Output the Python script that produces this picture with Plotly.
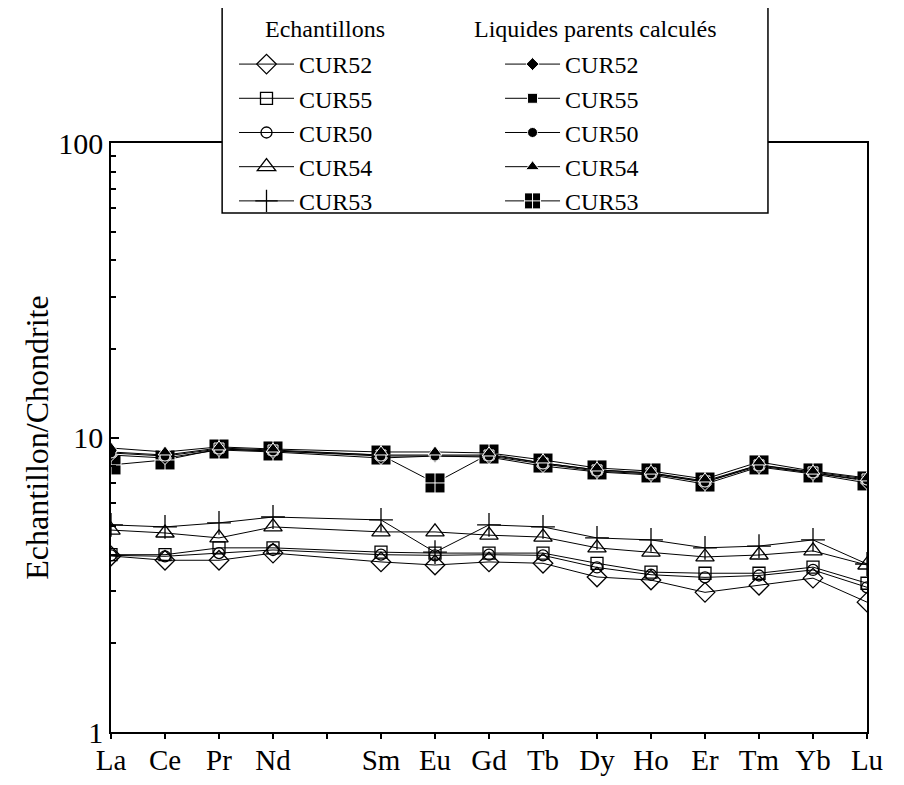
import plotly.graph_objects as go

# REE axis (Pm kept as an empty slot)
ree_axis = ["La", "Ce", "Pr", "Nd", "Pm", "Sm", "Eu", "Gd", "Tb", "Dy", "Ho", "Er", "Tm", "Yb", "Lu"]
elements = ["La", "Ce", "Pr", "Nd", "Sm", "Eu", "Gd", "Tb", "Dy", "Ho", "Er", "Tm", "Yb", "Lu"]

# Echantillons (chondrite-normalised)
cur52 = [3.96, 3.83, 3.83, 4.05, 3.78, 3.69, 3.78, 3.74, 3.36, 3.28, 2.98, 3.15, 3.33, 2.76]
cur55 = [4.00, 4.00, 4.22, 4.22, 4.08, 4.05, 4.05, 4.05, 3.74, 3.49, 3.46, 3.46, 3.63, 3.20]
cur50 = [3.98, 3.95, 4.05, 4.15, 4.00, 3.98, 4.00, 3.98, 3.62, 3.42, 3.35, 3.40, 3.55, 3.10]
cur54 = [4.85, 4.74, 4.56, 4.97, 4.78, 4.78, 4.66, 4.59, 4.22, 4.08, 3.93, 3.99, 4.12, 3.69]
cur53 = [5.05, 4.97, 5.13, 5.37, 5.25, 4.08, 5.05, 4.97, 4.56, 4.49, 4.22, 4.28, 4.49, 3.72]

# Liquides parents calculés
liq52 = [8.72, 8.52, 9.07, 8.93, 8.52, 8.65, 8.58, 8.00, 7.64, 7.46, 6.95, 7.94, 7.52, 7.01]
liq55 = [8.93, 8.72, 9.21, 9.07, 8.72, 8.72, 8.72, 8.19, 7.76, 7.58, 7.12, 8.07, 7.64, 7.23]
liq50 = [8.86, 8.65, 9.14, 9.00, 8.65, 8.65, 8.65, 8.13, 7.69, 7.52, 7.06, 8.00, 7.58, 7.17]
liq54 = [9.21, 8.93, 9.29, 9.14, 8.93, 8.93, 8.86, 8.39, 7.88, 7.69, 7.23, 8.26, 7.69, 7.29]
liq53 = [8.07, 8.39, 9.14, 9.00, 8.72, 7.01, 8.79, 8.19, 7.76, 7.58, 7.06, 8.07, 7.58, 7.12]

xpos = [ree_axis.index(e) for e in elements]
FONT = "Liberation Serif"

fig = go.Figure()

# liquids first (big black squares under the rest)
liquids = [
    ("CUR52", liq52, "diamond", 10),
    ("CUR55", liq55, "square", 10),
    ("CUR50", liq50, "circle", 10),
    ("CUR54", liq54, "triangle-up", 12),
]
fig.add_trace(go.Scatter(
    x=xpos, y=liq53, mode="lines+markers", name="CUR53",
    line=dict(color="black", width=1),
    marker=dict(symbol="square-cross", size=20, color="black",
                line=dict(color="white", width=1)),
    legend="legend2", legendrank=5,
))
for i, (name, vals, sym, size) in enumerate(liquids):
    fig.add_trace(go.Scatter(
        x=xpos, y=vals, mode="lines+markers", name=name,
        line=dict(color="black", width=1),
        marker=dict(symbol=sym, size=size, color="black",
                    line=dict(color="white", width=1)),
        legend="legend2", legendrank=i + 1,
    ))

samples = [
    ("CUR52", cur52, "diamond-open", 15),
    ("CUR55", cur55, "square-open", 12),
    ("CUR50", cur50, "circle-open", 11),
    ("CUR54", cur54, "triangle-up-open", 16),
    ("CUR53", cur53, "cross-thin-open", 17),
]
for i, (name, vals, sym, size) in enumerate(samples):
    fig.add_trace(go.Scatter(
        x=xpos, y=vals, mode="lines+markers", name=name,
        line=dict(color="black", width=1),
        marker=dict(symbol=sym, size=size, color="black",
                    line=dict(color="black", width=1.3)),
        legend="legend", legendrank=i + 1,
    ))

# legend box covering the top frame
fig.add_shape(type="rect", xref="paper", yref="paper",
              x0=0.147, x1=0.869, y0=0.881, y1=1.238,
              fillcolor="white", line=dict(color="black", width=1.5), layer="above")

# column headings
fig.add_annotation(text="Echantillons", x=0.283, y=1.1935, xref="paper", yref="paper",
                   showarrow=False, xanchor="center", yanchor="middle",
                   font=dict(family=FONT, size=24, color="black"))
fig.add_annotation(text="Liquides parents calculés", x=0.6415, y=1.1935, xref="paper", yref="paper",
                   showarrow=False, xanchor="center", yanchor="middle",
                   font=dict(family=FONT, size=24, color="black"))

leg_common = dict(
    font=dict(family=FONT, size=24, color="black"),
    bgcolor="rgba(0,0,0,0)", borderwidth=0,
    xanchor="left", yanchor="top", itemwidth=55,
    traceorder="normal",
)
fig.update_layout(
    legend=dict(x=0.1627, y=1.1715, **leg_common),
    legend2=dict(x=0.5146, y=1.1715, **leg_common),
)

fig.update_xaxes(
    range=[0, len(ree_axis) - 1],
    tickmode="array", tickvals=list(range(len(ree_axis))),
    ticktext=["" if e == "Pm" else e for e in ree_axis],
    ticks="outside", ticklen=5, tickwidth=1.5, tickcolor="black",
    ticklabelstandoff=-4,
    showline=True, linecolor="black", linewidth=1.5, mirror=True,
    showgrid=False, zeroline=False,
    tickfont=dict(family=FONT, size=29, color="black"),
)
fig.update_yaxes(
    type="log", range=[0, 2],
    tickmode="array", tickvals=[1, 10, 100], ticktext=["1", "10", "100"],
    ticks="inside", ticklen=8, tickwidth=1.5, tickcolor="black",
    minor=dict(ticks="inside", ticklen=5, tickwidth=1.5, tickcolor="black", dtick="D1"),
    showline=True, linecolor="black", linewidth=1.5, mirror=True,
    showgrid=False, zeroline=False,
    tickfont=dict(family=FONT, size=30, color="black"),
    title=dict(text="Echantillon/Chondrite", standoff=0,
               font=dict(family=FONT, size=32, color="black")),
)

# page body adds an 8px offset, so the figure is 8px smaller
fig.update_layout(
    width=896, height=777,
    margin=dict(l=103, r=37, t=135, b=53, autoexpand=False),
    plot_bgcolor="white", paper_bgcolor="white",
    font=dict(family=FONT, color="black"),
    showlegend=True,
)

fig.write_html("out.html")
